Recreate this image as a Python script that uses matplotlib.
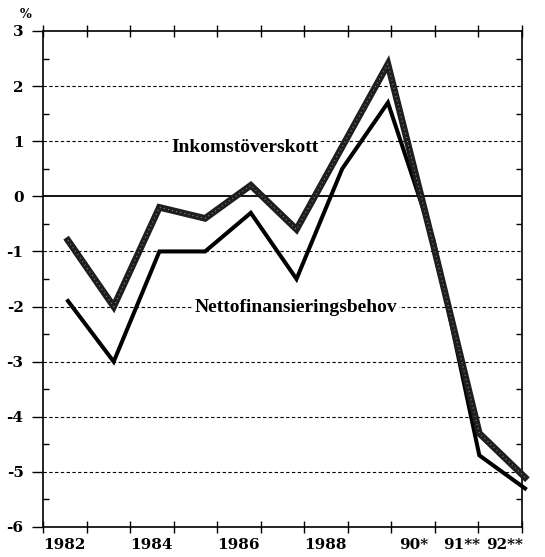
import matplotlib
matplotlib.use("Agg")
import matplotlib.pyplot as plt
import numpy as np

# Data (percent)
years = [1982, 1983, 1984, 1985, 1986, 1987, 1988, 1989, 1990, 1991, 1992]
inkomst = [-0.8, -2.0, -0.2, -0.4, 0.2, -0.6, 0.9, 2.4, -0.9, -4.3, -5.1]
netto = [-1.9, -3.0, -1.0, -1.0, -0.3, -1.5, 0.5, 1.7, -0.8, -4.7, -5.3]
xlabels = ['1982', '1984', '1986', '1988', '90*', '91**', '92**']
xlabel_ticks = [0, 2, 4, 6, 8, 9, 10]
yticks = list(range(-6, 4))

serif = 'DejaVu Serif'
label_font = 'Liberation Serif'

fig = plt.figure(figsize=(5.45, 5.57), dpi=100)
ax = fig.add_axes([43 / 545, 1 - 527 / 557, 479 / 545, 496 / 557])

x0, x1 = 1981.453, 1991.934
ax.set_xlim(x0, x1)
ax.set_ylim(-6, 3)

# grid lines
for y in yticks:
    if y == 0:
        ax.axhline(0, color='black', lw=1.3, zorder=2)
    elif -6 < y < 3:
        ax.axhline(y, color='black', lw=0.8, ls=(0, (3, 2.2)), zorder=1)

# Nettofinansieringsbehov
ax.plot(years, netto, color='black', lw=2.9, solid_joinstyle='miter',
        clip_on=False, zorder=4)
# Inkomstöverskott (thick hatched line)
ax.plot(years, inkomst, color='#1e1e1e', lw=4.8, solid_joinstyle='miter',
        clip_on=False, zorder=5)
ax.plot(years, inkomst, color='white', lw=0.8, ls=(0, (0.8, 3)), alpha=0.55,
        clip_on=False, zorder=6)

# line labels
ax.text(1985.87, 0.80, 'Inkomstöverskott', family=label_font,
        fontweight='bold', fontsize=14, ha='center', va='baseline', zorder=3,
        bbox=dict(facecolor='white', edgecolor='none', pad=1))
ax.text(1986.99, -2.10, 'Nettofinansieringsbehov', family=label_font,
        fontweight='bold', fontsize=14, ha='center', va='baseline', zorder=3,
        bbox=dict(facecolor='white', edgecolor='none', pad=1))

# x ticks
xt = np.linspace(x0, x1, 12)
ax.set_xticks(xt)
ax.set_xticklabels([])
ax.tick_params(axis='x', which='major', direction='inout', length=9, width=1,
               top=True, bottom=True)
for lab, i in zip(xlabels, xlabel_ticks):
    off = 0.0 if i < 8 else 0.17
    ax.text(xt[i] + off, -6.2, lab, family=serif, fontweight='bold', fontsize=11,
            ha='left', va='top')

# y ticks
ax.set_yticks(yticks)
ax.set_yticklabels([str(v) for v in yticks], family=serif, fontweight='bold', fontsize=11)
ax.set_yticks(np.arange(-5.5, 3, 1.0), minor=True)
ax.tick_params(axis='y', which='major', direction='out', length=8, width=1, pad=6)
ax.tick_params(axis='y', which='minor', direction='in', length=4, width=1,
               left=True, right=True)
ax.tick_params(axis='x', which='minor', bottom=False, top=False)

for s in ax.spines.values():
    s.set_linewidth(1.2)

ax.text(-0.037, 1.034, '%', transform=ax.transAxes, family=serif, fontweight='bold',
        fontsize=9, ha='center', va='center')

fig.savefig('out.png', dpi=100)
